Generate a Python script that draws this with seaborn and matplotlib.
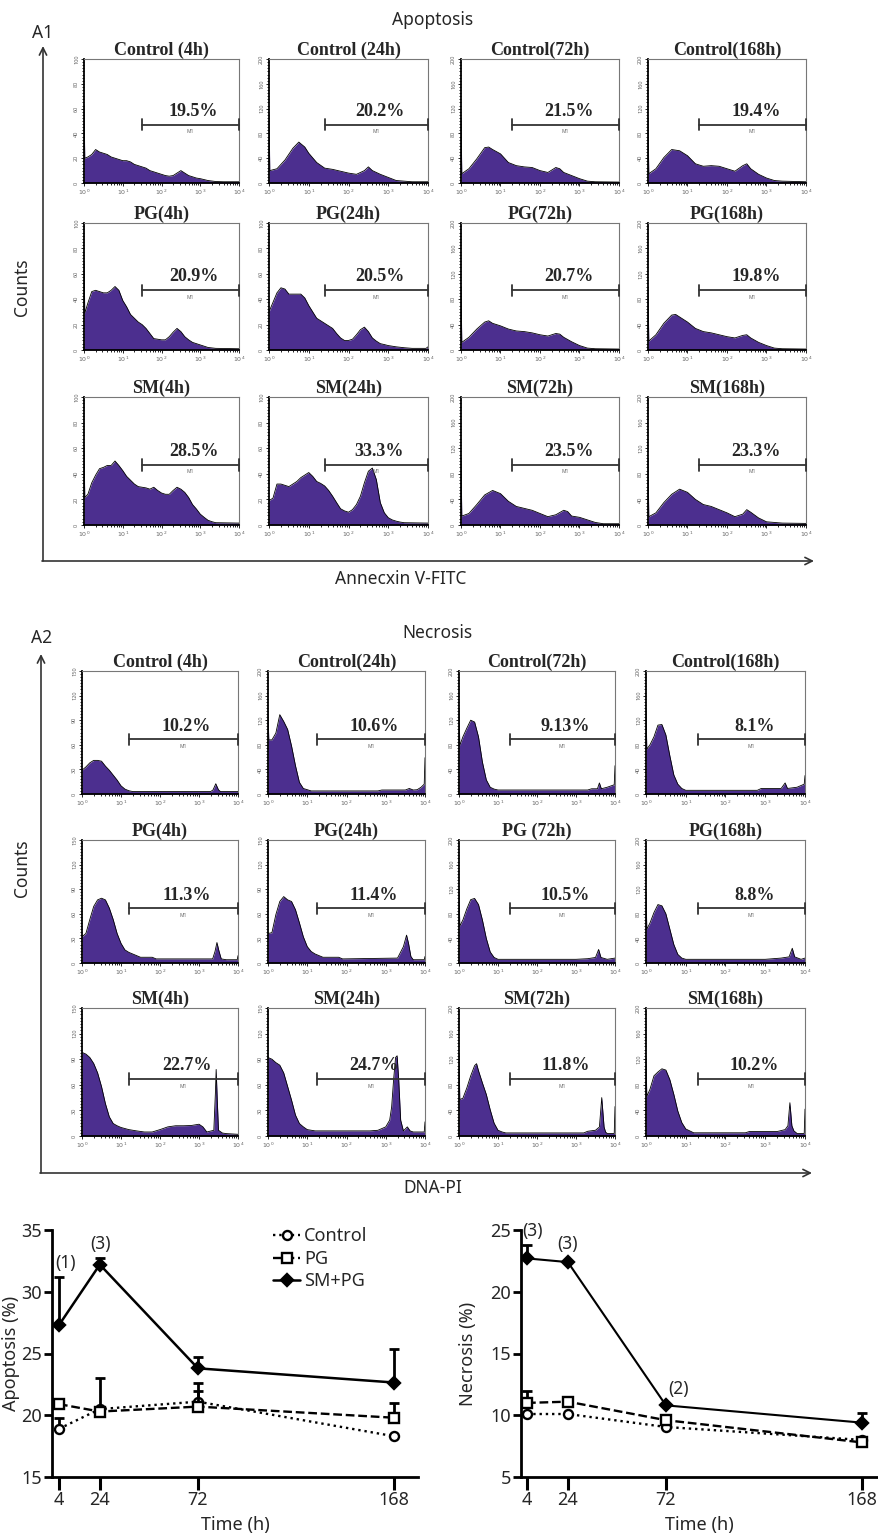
import numpy as np
import matplotlib
matplotlib.use('Agg')
import matplotlib.pyplot as plt
import seaborn as sns
from matplotlib.ticker import MultipleLocator, LogLocator, NullFormatter
from matplotlib.patches import FancyArrowPatch

# ---------------- data: flow-cytometry histograms (log10 channel, count) ----------------
apo_ctrl_4h = [(0,63),(0.02,20),(0.1,21),(0.2,23),(0.3,27),(0.4,25),(0.5,24),(0.6,23),(0.7,21),(0.8,20),(0.9,19),(1.0,18),(1.1,18),(1.2,17),(1.3,15),(1.4,14),(1.5,13),(1.6,12),(1.7,10),(1.8,9),(1.9,8),(2.0,7),(2.1,6),(2.2,5.5),(2.3,6),(2.4,8),(2.5,10),(2.6,8),(2.7,6),(2.8,5),(2.9,4),(3.0,3.5),(3.2,2),(3.4,1.2),(3.6,1),(4.0,1)]
apo_ctrl_24h = [(0,112),(0.02,20),(0.2,23),(0.4,37),(0.6,56),(0.75,66),(0.9,58),(1.0,48),(1.2,33),(1.4,24),(1.6,22),(1.8,19),(2.0,16),(2.2,14),(2.4,20),(2.5,26),(2.6,20),(2.8,14),(3.0,9),(3.2,4),(3.4,3),(3.6,2),(4.0,2)]
apo_ctrl_72h = [(0,105),(0.02,15),(0.2,23),(0.4,39),(0.6,57),(0.7,58),(0.8,54),(1.0,47),(1.2,33),(1.4,28),(1.6,26),(1.8,25),(2.0,20),(2.2,17),(2.4,25),(2.5,23),(2.6,17),(2.8,12),(3.0,7),(3.2,3),(3.4,2),(4.0,1.5)]
apo_ctrl_168h = [(0,105),(0.02,15),(0.2,23),(0.4,41),(0.6,54),(0.8,52),(1.0,44),(1.2,31),(1.4,27),(1.6,28),(1.8,27),(2.0,23),(2.2,19),(2.4,28),(2.5,31),(2.6,23),(2.8,14),(3.0,8),(3.2,4),(3.4,3),(4.0,2)]
apo_pg_4h = [(0,70),(0.02,29),(0.1,37),(0.2,46),(0.3,47),(0.4,46),(0.5,45),(0.6,45),(0.7,47),(0.8,50),(0.9,47),(1.0,39),(1.1,34),(1.2,28),(1.3,25),(1.4,22),(1.5,20),(1.6,17),(1.7,13),(1.8,9),(1.9,8.5),(2.0,8),(2.1,8),(2.2,10.5),(2.3,14),(2.4,17),(2.5,14.5),(2.6,10.5),(2.7,8),(2.8,6),(2.9,5),(3.0,4),(3.2,2),(3.4,1.3),(4.0,1)]
apo_pg_24h = [(0,30),(0.1,37.5),(0.2,45),(0.3,49),(0.4,48),(0.5,44),(0.6,44),(0.7,44),(0.8,44),(0.9,41),(1.0,35),(1.1,30),(1.2,25),(1.3,23),(1.4,21),(1.5,19),(1.6,17),(1.7,13),(1.8,9.5),(1.9,7.5),(2.0,7.5),(2.1,8.5),(2.2,12),(2.3,16),(2.4,18),(2.5,14.5),(2.6,9.5),(2.7,7),(2.8,5),(2.9,4.3),(3.0,3.5),(3.2,2.5),(3.4,1.8),(3.6,1.3),(3.95,1.3),(4.0,2.5)]
apo_pg_72h = [(0,100),(0.02,12),(0.2,20),(0.4,33),(0.6,44),(0.7,46),(0.8,42),(1.0,38),(1.2,33),(1.4,30),(1.6,29),(1.8,27),(2.0,24),(2.2,22),(2.4,26),(2.5,25),(2.6,20),(2.8,13),(3.0,7),(3.2,3),(3.4,2),(4.0,1.5)]
apo_pg_168h = [(0,100),(0.02,14),(0.2,24),(0.4,42),(0.6,55),(0.7,56),(0.8,52),(1.0,44),(1.2,34),(1.4,29),(1.6,27),(1.8,24),(2.0,21),(2.2,19),(2.4,23),(2.5,24),(2.6,19),(2.8,12),(3.0,7),(3.2,3),(3.4,2),(4.0,1.5)]
apo_sm_4h = [(0,61),(0.02,21.5),(0.1,24),(0.2,33),(0.3,39),(0.4,44),(0.5,45),(0.6,46.5),(0.7,46.5),(0.8,50),(0.9,46.5),(1.0,42.5),(1.1,38),(1.2,35),(1.3,32),(1.4,30),(1.5,29.5),(1.6,29),(1.7,28),(1.8,29.5),(1.9,27),(2.0,25),(2.1,24),(2.2,24),(2.3,27),(2.4,29.5),(2.5,28),(2.6,25.5),(2.7,21.5),(2.8,16),(2.9,12.5),(3.0,8.5),(3.1,6),(3.2,3.7),(3.3,2.6),(3.4,1.8),(4.0,1.5)]
apo_sm_24h = [(0,19),(0.1,21),(0.2,32),(0.3,32),(0.4,31),(0.5,30),(0.6,32),(0.7,34),(0.8,37),(0.9,39),(1.0,41),(1.1,38),(1.2,34),(1.3,32.5),(1.4,30.5),(1.5,27),(1.6,22.5),(1.7,17.5),(1.8,12.7),(1.9,11),(2.0,10),(2.1,12),(2.2,16),(2.3,22.5),(2.4,33),(2.5,42),(2.6,44.5),(2.7,35.5),(2.8,17.5),(2.9,9.6),(3.0,5.7),(3.1,4),(3.2,3),(3.3,2.3),(3.4,1.8),(4.0,1.5)]
apo_sm_72h = [(0,105),(0.02,14),(0.2,18),(0.4,32),(0.6,47),(0.8,54),(1.0,49),(1.2,37),(1.4,29),(1.6,26),(1.8,23),(2.0,18),(2.2,13),(2.4,16),(2.6,23),(2.7,21),(2.8,14),(3.0,12),(3.2,8),(3.4,4),(3.6,2),(4.0,2)]
apo_sm_168h = [(0,104),(0.02,13),(0.2,19),(0.4,35),(0.6,48),(0.8,56),(1.0,51),(1.2,40),(1.4,32),(1.6,29),(1.8,24),(2.0,19),(2.2,13),(2.4,17),(2.5,24),(2.6,20),(2.8,11),(3.0,5),(3.2,4),(3.4,3),(4.0,2.5)]

nec_ctrl_4h = [(0,29),(0.1,33),(0.2,38),(0.3,41),(0.4,41),(0.5,40),(0.6,34),(0.7,29),(0.8,23),(0.9,17),(1.0,10),(1.1,6),(1.2,4),(1.3,3),(3.3,3),(3.36,5),(3.43,12.5),(3.5,5),(3.55,3),(4.0,3)]
nec_ctrl_24h = [(0,135),(0.02,88),(0.1,88),(0.2,99),(0.3,129),(0.4,118),(0.5,105),(0.6,78),(0.7,46),(0.8,19),(0.9,9),(1.0,7),(1.1,5),(2.8,5),(2.9,6.5),(3.5,6.5),(3.6,9),(3.7,6.5),(3.8,7),(3.9,11),(3.98,16),(4.0,59)]
nec_ctrl_72h = [(0,139),(0.02,79),(0.1,93),(0.2,107),(0.3,120),(0.4,117),(0.5,93),(0.6,52),(0.7,23),(0.8,11),(0.9,8),(1.0,6.5),(3.3,6.5),(3.4,8.5),(3.55,8.5),(3.6,18),(3.65,8.5),(3.8,11),(3.98,15),(4.0,46)]
nec_ctrl_168h = [(0,138),(0.02,73),(0.1,80),(0.2,93),(0.3,112),(0.4,113),(0.5,96),(0.6,62),(0.7,31),(0.8,16),(0.9,9),(1.0,6),(2.8,6),(2.9,9),(3.4,9),(3.5,18),(3.56,9),(3.8,11),(3.98,16),(4.0,30)]
nec_pg_4h = [(0,32),(0.1,36),(0.2,53),(0.3,69),(0.4,77),(0.5,79),(0.6,77),(0.7,67),(0.8,53),(0.9,36),(1.0,24),(1.1,16),(1.2,13),(1.3,11),(1.4,9),(1.5,7),(1.8,7),(1.9,5),(3.35,5),(3.41,14),(3.46,25),(3.51,15),(3.57,5),(3.7,4),(3.98,4),(4.0,9)]
nec_pg_24h = [(0,36),(0.1,37),(0.2,59),(0.3,75),(0.4,81),(0.5,77),(0.6,75),(0.7,65),(0.8,49),(0.9,32),(1.0,20),(1.1,14),(1.2,11),(1.3,9),(1.4,7),(1.8,7),(1.9,5),(3.3,6),(3.45,20),(3.53,34),(3.58,24),(3.64,8),(3.7,4),(3.98,4),(4.0,8)]
nec_pg_72h = [(0,120),(0.02,60),(0.1,70),(0.2,88),(0.3,103),(0.4,105),(0.5,95),(0.6,70),(0.7,40),(0.8,18),(0.9,9),(1.0,6),(3.0,6),(3.3,7),(3.5,9),(3.58,22),(3.64,9),(3.8,6),(4.0,8)]
nec_pg_168h = [(0,115),(0.02,55),(0.1,65),(0.2,82),(0.3,95),(0.4,93),(0.5,80),(0.6,55),(0.7,30),(0.8,14),(0.9,8),(1.0,6),(3.0,6),(3.4,8),(3.6,10),(3.68,24),(3.74,10),(3.9,6),(4.0,8)]
nec_sm_4h = [(0,98),(0.1,96),(0.2,92),(0.3,85),(0.4,74),(0.5,58),(0.6,38),(0.7,22.5),(0.8,14.6),(0.9,12),(1.0,10),(1.2,7.5),(1.4,6),(1.6,4.7),(1.8,4.7),(2.0,7.5),(2.2,10.7),(2.4,12),(2.6,12),(2.8,12.3),(3.0,13.8),(3.1,10.7),(3.2,4.7),(3.38,6.7),(3.42,50),(3.44,78),(3.47,40),(3.5,6.7),(3.6,3.5),(3.7,2.8),(4.0,2)]
nec_sm_24h = [(0,92),(0.1,90),(0.2,86),(0.3,83),(0.4,74),(0.5,58),(0.6,42),(0.7,24.5),(0.8,14.6),(0.9,10.7),(1.0,7.5),(1.2,6),(2.6,6),(2.8,6.7),(3.0,10.7),(3.1,18.6),(3.15,34),(3.2,66),(3.25,92),(3.29,94),(3.33,66),(3.38,18.6),(3.45,6),(3.55,10.7),(3.62,6),(3.7,4.7),(3.98,4.7),(4.0,16.6)]
nec_sm_72h = [(0,128),(0.02,57),(0.1,59),(0.2,75),(0.3,94),(0.4,110),(0.45,113),(0.5,102),(0.6,83),(0.7,65),(0.8,41),(0.9,20),(1.0,9),(1.1,6.4),(1.2,4.8),(3.2,4.8),(3.3,7.4),(3.5,9),(3.6,14),(3.66,60),(3.72,14),(3.76,6),(3.8,4),(3.98,4),(4.0,46)]
nec_sm_168h = [(0,122),(0.02,62),(0.1,73),(0.2,94),(0.3,100),(0.4,105),(0.5,103),(0.6,88),(0.7,65),(0.8,39),(0.9,21),(1.0,11),(1.1,8),(1.2,5),(2.5,5),(2.6,7),(3.3,7),(3.5,10),(3.57,16),(3.62,52),(3.67,16),(3.72,8),(3.8,4),(3.98,4),(4.0,42)]

apo_titles = [["Control (4h)", "Control (24h)", "Control(72h)", "Control(168h)"],
              ["PG(4h)", "PG(24h)", "PG(72h)", "PG(168h)"],
              ["SM(4h)", "SM(24h)", "SM(72h)", "SM(168h)"]]
apo_pcts = [["19.5%", "20.2%", "21.5%", "19.4%"],
            ["20.9%", "20.5%", "20.7%", "19.8%"],
            ["28.5%", "33.3%", "23.5%", "23.3%"]]
apo_ymax = [[100, 200, 200, 200], [100, 100, 200, 200], [100, 100, 200, 200]]
apo_hists = [[apo_ctrl_4h, apo_ctrl_24h, apo_ctrl_72h, apo_ctrl_168h],
             [apo_pg_4h, apo_pg_24h, apo_pg_72h, apo_pg_168h],
             [apo_sm_4h, apo_sm_24h, apo_sm_72h, apo_sm_168h]]
apo_m1 = [1.5, 1.4, 1.3, 1.3]

nec_titles = [["Control (4h)", "Control(24h)", "Control(72h)", "Control(168h)"],
              ["PG(4h)", "PG(24h)", "PG (72h)", "PG(168h)"],
              ["SM(4h)", "SM(24h)", "SM(72h)", "SM(168h)"]]
nec_pcts = [["10.2%", "10.6%", "9.13%", "8.1%"],
            ["11.3%", "11.4%", "10.5%", "8.8%"],
            ["22.7%", "24.7%", "11.8%", "10.2%"]]
nec_ymax = [[150, 200, 200, 200], [150, 150, 200, 200], [150, 150, 200, 200]]
nec_hists = [[nec_ctrl_4h, nec_ctrl_24h, nec_ctrl_72h, nec_ctrl_168h],
             [nec_pg_4h, nec_pg_24h, nec_pg_72h, nec_pg_168h],
             [nec_sm_4h, nec_sm_24h, nec_sm_72h, nec_sm_168h]]
nec_m1 = [1.2, 1.25, 1.3, 1.3]

# ---------------- data: summary line charts ----------------
time_h = [4, 24, 72, 168]
apo_control = [18.9, 20.5, 21.1, 18.3]
apo_control_err = [0.9, 0.0, 1.5, 0.0]
apo_pg = [20.9, 20.3, 20.7, 19.8]
apo_pg_err = [0.0, 2.7, 1.3, 1.2]
apo_smpg = [27.3, 32.2, 23.8, 22.65]
apo_smpg_err = [3.9, 0.5, 0.9, 2.7]

nec_control = [10.1, 10.1, 9.05, 8.0]
nec_control_err = [0.0, 0.0, 0.0, 0.0]
nec_pg = [11.0, 11.1, 9.6, 7.8]
nec_pg_err = [1.0, 0.0, 0.0, 0.0]
nec_smpg = [22.7, 22.4, 10.8, 9.4]
nec_smpg_err = [1.1, 0.0, 0.0, 0.8]

# ---------------- figure ----------------
sns.set_theme(style='white')
plt.rcParams['font.family'] = ['Noto Sans', 'DejaVu Sans']
plt.rcParams['mathtext.fontset'] = 'dejavusans'

W, H = 879, 1535
fig = plt.figure(figsize=(W / 100, H / 100), dpi=100)
PURPLE = '#4c2f8f'
SERIF = 'Liberation Serif'


def axes_px(l, t, r, b):
    return fig.add_axes([l / W, 1 - b / H, (r - l) / W, (b - t) / H])


def hist_panel(box, pts, ymax, title, pct, m1, bar_y, txt_y):
    ax = axes_px(*box)
    ax.set_xscale('log')
    lx = np.array([p[0] for p in pts], float)
    cnt = np.array([p[1] for p in pts], float)
    xs = 10 ** lx
    ax.fill_between(xs, 0, cnt, color=PURPLE, lw=0, zorder=2)
    sns.lineplot(x=xs, y=cnt, ax=ax, color='black', lw=0.6, sort=False,
                 estimator=None, zorder=3)
    ax.set_xlim(1, 1e4)
    ax.set_ylim(0, ymax)
    step = ymax // 5
    yt = list(range(0, ymax + 1, step))
    ax.set_yticks(yt)
    ax.set_yticklabels([str(v) for v in yt], rotation=90, fontsize=4,
                       color='#666', va='center')
    ax.yaxis.set_minor_locator(MultipleLocator(ymax / 40))
    ax.set_xticks([1, 10, 100, 1000, 10000])
    ax.set_xticklabels([r'$10^{0}$', r'$10^{1}$', r'$10^{2}$', r'$10^{3}$', r'$10^{4}$'],
                       fontsize=4.5, color='#666')
    ax.xaxis.set_minor_locator(LogLocator(base=10, subs=np.arange(2, 10) * 1.0, numticks=20))
    ax.xaxis.set_minor_formatter(NullFormatter())
    ax.tick_params(which='both', bottom=True, left=True, direction='out',
                   color='black', width=0.6, pad=1)
    ax.tick_params(which='major', length=2.5)
    ax.tick_params(which='minor', length=1.5)
    ax.set_facecolor('white')
    for s in ('left', 'bottom'):
        ax.spines[s].set_color('black')
        ax.spines[s].set_linewidth(1.3)
    for s in ('top', 'right'):
        ax.spines[s].set_color('#777')
        ax.spines[s].set_linewidth(0.8)
    ax.set_xlabel('')
    ax.set_ylabel('')
    ax.set_title(title, fontsize=13, fontweight='bold', fontfamily=SERIF, pad=1.5)
    tr = ax.get_xaxis_transform()
    x0 = 10 ** m1
    ax.plot([x0, 1e4], [bar_y, bar_y], transform=tr, color='#333', lw=1.3,
            clip_on=False, zorder=4)
    for xc in (x0, 1e4):
        ax.plot([xc, xc], [bar_y - 0.045, bar_y + 0.045], transform=tr,
                color='#333', lw=1.3, clip_on=False, zorder=4)
    xmid = 10 ** ((m1 + 4) / 2)
    ax.text(xmid, bar_y - 0.055, 'M1', transform=tr, fontsize=3.5, color='#666',
            ha='center', va='center')
    ax.text(10 ** ((m1 + 4) / 2 + 0.08), txt_y, pct, transform=tr, fontsize=13,
            fontweight='bold', fontfamily=SERIF, ha='center', va='center')
    return ax


apo_rows = [(59, 183), (223, 350), (397, 525)]
apo_cols = [(84, 239), (269, 428), (461, 619), (648, 806)]
nec_rows = [(671, 794), (840, 963), (1008, 1136)]
nec_cols = [(82, 238), (268, 425), (459, 615), (646, 805)]

for i, (t, b) in enumerate(apo_rows):
    for j, (l, r) in enumerate(apo_cols):
        hist_panel((l, t, r, b), apo_hists[i][j], apo_ymax[i][j], apo_titles[i][j],
                   apo_pcts[i][j], apo_m1[j], 0.47, 0.575)

for i, (t, b) in enumerate(nec_rows):
    for j, (l, r) in enumerate(nec_cols):
        hist_panel((l, t, r, b), nec_hists[i][j], nec_ymax[i][j], nec_titles[i][j],
                   nec_pcts[i][j], nec_m1[j], 0.445, 0.55)


def arrow(p0, p1):
    a = FancyArrowPatch((p0[0] / W, 1 - p0[1] / H), (p1[0] / W, 1 - p1[1] / H),
                        transform=fig.transFigure, arrowstyle='->', mutation_scale=13,
                        lw=1.2, color='#333', shrinkA=0, shrinkB=0)
    fig.add_artist(a)


def ftext(x, y, s, **kw):
    fig.text(x / W, 1 - y / H, s, ha='center', va='center', **kw)


arrow((43, 561), (43, 46))
arrow((42, 561), (814, 561))
arrow((41, 1173), (41, 654))
arrow((40, 1173), (812, 1173))

ftext(433, 20, 'Apoptosis', fontsize=12.5)
ftext(43, 33, 'A1', fontsize=12.5)
ftext(22, 287, 'Counts', fontsize=12.5, rotation=90)
ftext(401, 579, 'Annecxin V-FITC', fontsize=12.5)
ftext(437, 633, 'Necrosis', fontsize=12.5)
ftext(42, 638, 'A2', fontsize=12.5)
ftext(22, 868, 'Counts', fontsize=12.5, rotation=90)
ftext(433, 1188, 'DNA-PI', fontsize=12.5)

# ---------------- summary charts ----------------
axL = axes_px(52, 1230, 418, 1477)
axR = axes_px(521, 1230, 878, 1477)


def series(ax, y, err, ls, marker, mfc, ms, label, lw, z):
    sns.lineplot(x=time_h, y=y, ax=ax, color='black', linestyle=ls, lw=lw,
                 marker=marker, markersize=ms, markerfacecolor=mfc,
                 markeredgecolor='black', markeredgewidth=1.7, label=label,
                 zorder=z, estimator=None, sort=False)
    idx = [k for k, e in enumerate(err) if e > 0]
    if idx:
        ax.errorbar([time_h[k] for k in idx], [y[k] for k in idx],
                    yerr=[[0] * len(idx), [err[k] for k in idx]], fmt='none',
                    ecolor='black', elinewidth=2, capsize=3.5, capthick=2, zorder=z - 1)


series(axL, apo_control, apo_control_err, ':', 'o', 'white', 6.5, 'Control', 1.7, 6)
series(axL, apo_pg, apo_pg_err, '--', 's', 'white', 7, 'PG', 1.7, 7)
series(axL, apo_smpg, apo_smpg_err, '-', 'D', 'black', 6, 'SM+PG', 1.8, 8)

series(axR, nec_control, nec_control_err, ':', 'o', 'white', 6.5, 'Control', 1.7, 6)
series(axR, nec_pg, nec_pg_err, '--', 's', 'white', 7, 'PG', 1.7, 7)
series(axR, nec_smpg, nec_smpg_err, '-', 'D', 'black', 6, 'SM+PG', 1.5, 8)

axL.set_xlim(0.6, 179.7)
axL.set_ylim(15, 35)
axR.set_xlim(1.06, 175.8)
axR.set_ylim(5, 25)
axL.set_yticks([15, 20, 25, 30, 35])
axR.set_yticks([5, 10, 15, 20, 25])

for ax, yl, lx in ((axL, 'Apoptosis (%)', -0.088), (axR, 'Necrosis (%)', -0.123)):
    sns.despine(ax=ax)
    for s in ('left', 'bottom'):
        ax.spines[s].set_color('black')
        ax.spines[s].set_linewidth(2)
    ax.set_xticks(time_h)
    ax.set_xticklabels([str(t) for t in time_h])
    ax.tick_params(axis='x', bottom=True, length=9, width=2.2, direction='out',
                   labelsize=13, pad=1, color='black')
    ax.tick_params(axis='y', left=True, length=6, width=2, direction='out',
                   labelsize=13, pad=1, color='black')
    ax.set_xlabel('Time (h)', fontsize=13, labelpad=5)
    ax.set_ylabel(yl, fontsize=13)
    ax.yaxis.set_label_coords(lx, 0.5)
    ax.set_facecolor('white')

axL.text(7, 32.3, '(1)', fontsize=12.5, ha='center', va='center')
axL.text(24.5, 33.9, '(3)', fontsize=12.5, ha='center', va='center')
axR.text(6.5, 24.9, '(3)', fontsize=12.5, ha='center', va='center')
axR.text(24, 23.9, '(3)', fontsize=12.5, ha='center', va='center')
axR.text(78, 12.1, '(2)', fontsize=12.5, ha='center', va='center')

h, lab = axL.get_legend_handles_labels()
axL.legend(h, lab, loc='upper left', bbox_to_anchor=(0.585, 1.04), frameon=False,
           fontsize=13, handlelength=1.5, handletextpad=0.2, labelspacing=0.25,
           borderaxespad=0)
if axR.get_legend() is not None:
    axR.get_legend().remove()

fig.savefig('out.png', dpi=100, facecolor='white')
